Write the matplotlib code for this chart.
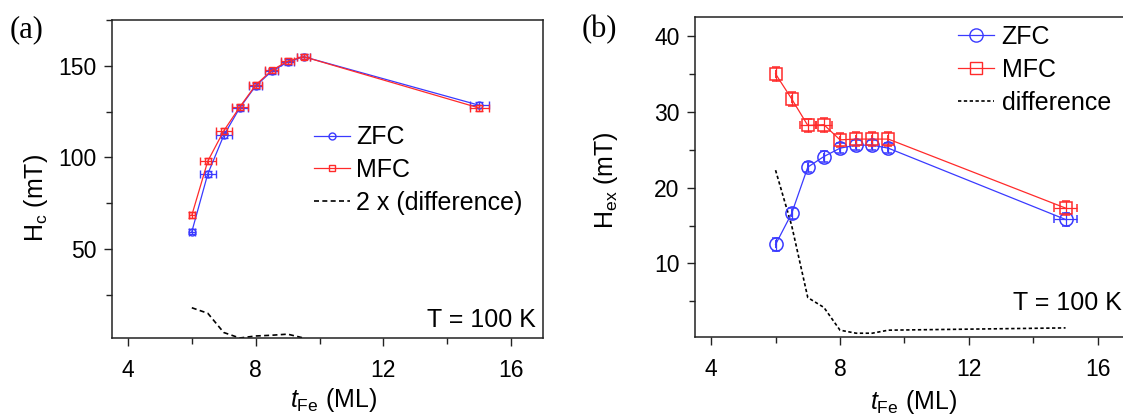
import matplotlib
matplotlib.use('Agg')
import matplotlib.pyplot as plt
from matplotlib.ticker import MultipleLocator
from matplotlib.lines import Line2D

plt.rcParams['font.family'] = ['Liberation Sans', 'DejaVu Sans']
plt.rcParams['mathtext.fontset'] = 'custom'
plt.rcParams['mathtext.rm'] = 'Liberation Sans'
plt.rcParams['mathtext.it'] = 'Liberation Sans:italic'

# --- panel (a): coercive field ---
t_a = [6.0, 6.5, 7.0, 7.5, 8.0, 8.5, 9.0, 9.5, 15.0]
hc_zfc = [59.5, 91, 112, 127, 139, 147, 152, 155, 128.5]
hc_mfc = [68.5, 98, 114.5, 127.5, 139.5, 147.5, 152.5, 155, 127]
xerr_a = [0.1, 0.25, 0.25, 0.25, 0.2, 0.2, 0.2, 0.2, 0.3]
yerr_a = [1.5, 1.5, 1.5, 1.5, 1.5, 1.5, 1.5, 1.5, 1.5]
t_diff_a = [6.0, 6.5, 7.0, 7.5, 8.0, 8.5, 9.0, 9.5]
diff_a = [18, 15, 4.5, 1.5, 2.6, 3.0, 3.6, 1.5]

# --- panel (b): exchange bias ---
t_b = [6.0, 6.5, 7.0, 7.5, 8.0, 8.5, 9.0, 9.5, 15.0]
hex_zfc = [12.5, 16.6, 22.7, 24.1, 25.2, 25.6, 25.6, 25.2, 15.8]
hex_mfc = [35.0, 31.7, 28.2, 28.3, 26.3, 26.4, 26.4, 26.4, 17.3]
xerr_zfc_b = [0, 0, 0, 0, 0, 0, 0, 0, 0.35]
yerr_zfc_b = [0.8, 0.7, 0.7, 0.7, 0.7, 0.7, 0.7, 0.7, 0.8]
xerr_mfc_b = [0, 0, 0.25, 0.25, 0, 0, 0, 0, 0.35]
yerr_mfc_b = [0.9, 0.9, 0.9, 0.9, 0.9, 0.9, 0.9, 0.9, 0.9]
t_diff_b = [6.0, 6.5, 7.0, 7.5, 8.0, 8.5, 9.0, 9.5, 15.0]
diff_b = [22.3, 15.0, 5.5, 4.2, 1.2, 0.8, 0.8, 1.2, 1.5]

blue = '#3a3aff'
red = '#ff2a2a'
W, H = 1123, 419

fig = plt.figure(figsize=(W / 100, H / 100), dpi=100)
ax1 = fig.add_axes([112 / W, 1 - 338 / H, 431 / W, 318 / H])
ax2 = fig.add_axes([695 / W, 1 - 337 / H, 435 / W, 320 / H])


def px(x, y):
    # pixel position (from top-left) -> figure fraction
    return x / W, 1 - y / H


def style_axes(ax):
    for s in ax.spines.values():
        s.set_linewidth(1.1)
        s.set_color('#222222')
    ax.tick_params(which='both', direction='out', top=False, right=False,
                   labelsize=16.5, width=1.0, color='#222222')
    ax.tick_params(which='major', length=6)
    ax.tick_params(which='minor', length=4)
    ax.tick_params(axis='x', pad=9)
    ax.tick_params(axis='y', pad=5)
    ax.xaxis.set_major_locator(MultipleLocator(4))
    ax.xaxis.set_minor_locator(MultipleLocator(2))
    ax.set_xlim(3.5, 17)


def handles(ms_c, ms_s, dash):
    return [Line2D([], [], color=blue, lw=0.9, marker='o', ms=ms_c, mfc='none', mec=blue),
            Line2D([], [], color=red, lw=0.9, marker='s', ms=ms_s, mfc='none', mec=red),
            Line2D([], [], color='black', lw=1.2, ls=dash)]


# panel (a)
style_axes(ax1)
ax1.errorbar(t_a, hc_zfc, xerr=xerr_a, yerr=yerr_a, color=blue, lw=0.9,
             marker='o', ms=5, mfc='none', mec=blue, capsize=3, elinewidth=0.9)
ax1.errorbar(t_a, hc_mfc, xerr=xerr_a, yerr=yerr_a, color=red, lw=0.9,
             marker='s', ms=5, mfc='none', mec=red, capsize=3, elinewidth=0.9)
ax1.plot(t_diff_a, diff_a, color='black', ls=(0, (3, 2)), lw=1.2)
ax1.set_ylim(1.5, 175)
ax1.yaxis.set_major_locator(MultipleLocator(50))
ax1.yaxis.set_minor_locator(MultipleLocator(25))
ax1.set_ylabel(r'H$_\mathrm{c}$ (mT)', fontsize=18)
ax1.yaxis.set_label_coords(-0.144, 0.44)
ax1.set_xlabel(r'$t_{\mathrm{Fe}}$ (ML)', fontsize=18)
ax1.xaxis.set_label_coords(0.515, -0.152)
fig.legend(handles(5, 5, (0, (3, 2))), ['ZFC', 'MFC', '2 x (difference)'],
           loc='center left', bbox_to_anchor=px(314, 170), frameon=False,
           fontsize=18, handlelength=1.45, handletextpad=0.25,
           labelspacing=0.35, borderpad=0, borderaxespad=0)
fig.text(*px(536, 327), 'T = 100 K', ha='right', va='baseline', fontsize=18)
fig.text(*px(10, 37), '(a)', family='Liberation Serif', fontsize=22,
         va='baseline')

# panel (b)
style_axes(ax2)
ax2.errorbar(t_b, hex_zfc, xerr=xerr_zfc_b, yerr=yerr_zfc_b, color=blue, lw=0.9,
             marker='o', ms=9.5, mfc='none', mec=blue, mew=1.1, capsize=3,
             elinewidth=0.9)
ax2.errorbar(t_b, hex_mfc, xerr=xerr_mfc_b, yerr=yerr_mfc_b, color=red, lw=0.9,
             marker='s', ms=9, mfc='none', mec=red, mew=1.1, capsize=3,
             elinewidth=0.9)
ax2.plot(t_diff_b, diff_b, color='black', ls=(0, (2, 1.5)), lw=1.2)
ax2.set_ylim(0.3, 42.5)
ax2.yaxis.set_major_locator(MultipleLocator(10))
ax2.yaxis.set_minor_locator(MultipleLocator(5))
ax2.set_ylabel(r'H$_\mathrm{ex}$ (mT)', fontsize=18)
ax2.yaxis.set_label_coords(-0.172, 0.49)
ax2.set_xlabel(r'$t_{\mathrm{Fe}}$ (ML)', fontsize=18)
ax2.xaxis.set_label_coords(0.503, -0.160)
fig.legend(handles(9.5, 9, (0, (2, 1.5))), ['ZFC', 'MFC', 'difference'],
           loc='center left', bbox_to_anchor=px(958, 70), frameon=False,
           fontsize=18, handlelength=1.45, handletextpad=0.3,
           labelspacing=0.35, borderpad=0, borderaxespad=0)
fig.text(*px(1122, 310), 'T = 100 K', ha='right', va='baseline', fontsize=18)
fig.text(*px(582, 37), '(b)', family='Liberation Serif', fontsize=22,
         va='baseline')

fig.savefig('out.png', dpi=100)
